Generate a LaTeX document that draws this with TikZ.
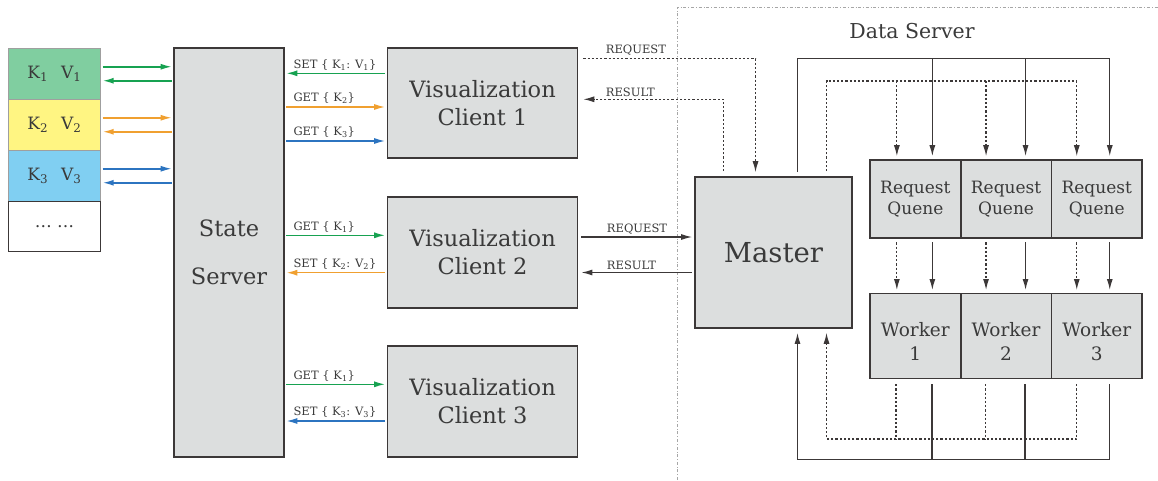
\documentclass[tikz,border=0pt]{standalone}
\usepackage{fontspec}
\setmainfont{DejaVu Serif}
\usetikzlibrary{arrows.meta}

\definecolor{boxgray}{HTML}{DCDEDE}
\definecolor{edge}{HTML}{3C3838}
\definecolor{ink}{HTML}{3A3A3A}
\definecolor{kvgreen}{HTML}{80CEA0}
\definecolor{kvyellow}{HTML}{FFF582}
\definecolor{kvblue}{HTML}{80CFF2}
\definecolor{getgreen}{HTML}{17A251}
\definecolor{getorange}{HTML}{F0A030}
\definecolor{getblue}{HTML}{2C74C0}

\newcommand{\kvpair}[1]{K\textsubscript{#1}\hspace{13pt}V\textsubscript{#1}}

\tikzset{
  box/.style={draw=edge, fill=boxgray, line width=1.6pt, text=ink, align=center, inner sep=0pt},
  client/.style={box, minimum width=190pt, minimum height=110pt, font=\fontsize{22.5}{28}\selectfont},
  cell/.style={box, minimum width=90.7pt},
  kv/.style={draw=gray!75, line width=1.4pt, minimum width=92pt, minimum height=51pt,
             inner sep=0pt, text=ink, font=\fontsize{17}{20}\selectfont},
  lbl/.style={text=ink, font=\fontsize{11.5}{13}\selectfont, inner sep=1pt, above right},
  arr/.style={-{Latex[length=11pt,width=6pt]}},
  larr/.style={{Latex[length=11pt,width=6pt]}-},
  carr/.style={line width=1.5pt, shorten <=1.5pt, shorten >=1.5pt},
  wire/.style={draw=edge, line width=1.3pt},
  dwire/.style={wire, line width=1.2pt, dash pattern=on 2.2pt off 2pt},
}

\begin{document}
\begin{tikzpicture}[x=1pt,y=-1pt]
\useasboundingbox (0,0) rectangle (1158,480);

% key / value table
\node[kv, fill=kvgreen]  (kv1) at (54.5,73.75)  {\kvpair{1}};
\node[kv, fill=kvyellow] (kv2) at (54.5,124.75) {\kvpair{2}};
\node[kv, fill=kvblue]   (kv3) at (54.5,175.75) {\kvpair{3}};
\node[kv, draw=edge, fill=white, minimum height=50.5pt] (kv4) at (54.5,226.5) {\dots\ \dots};

% servers and clients
\node[box, minimum width=110pt, minimum height=409pt, font=\fontsize{22.5}{27}\selectfont]
  (state) at (229,252.7) {State\\[21pt]Server};
\node[client] (c1) at (482.5,103)   {Visualization\\Client 1};
\node[client, minimum height=111pt] (c2) at (482.5,252.5) {Visualization\\Client 2};
\node[client, minimum height=111pt] (c3) at (482.5,401.5) {Visualization\\Client 3};
\node[box, minimum width=157pt, minimum height=151pt, font=\fontsize{27.5}{33}\selectfont]
  (master) at (773.5,252.5) {Master};

\foreach \i/\x in {1/915.35,2/1006.05,3/1096.75} {
  \node[cell, minimum height=78pt, font=\fontsize{17}{21}\selectfont] (q\i) at (\x,199) {Request\\Quene};
  \node[cell, minimum height=85pt, font=\fontsize{18.5}{24}\selectfont] (w\i) at (\x,335.8)
    {\rule{0pt}{25pt}Worker\\\i};
}

% data server frame
\draw[gray!70, line width=0.6pt, dash dot] (677,480) -- (677,7.5) -- (1158,7.5);
\node[text=ink, font=\fontsize{20.5}{22}\selectfont] (ds) at (912,31) {Data Server};

% table <-> state server
\foreach \i/\c in {1/getgreen,2/getorange,3/getblue} {
  \draw[carr, arr, \c] ([yshift=7pt]kv\i.east) -- ([yshift=7pt]kv\i.east -| state.west);
  \draw[carr, larr, \c] ([yshift=-7pt]kv\i.east) -- ([yshift=-7pt]kv\i.east -| state.west);
}

% state server <-> clients
\draw[carr, larr, getgreen] ([yshift=29.7pt]c1.west -| state.east) node[lbl, xshift=7pt, yshift=1.5pt]
  {SET \{ K\textsubscript{1}: V\textsubscript{1}\}} -- ([yshift=29.7pt]c1.west);
\draw[carr, arr, getorange] ([yshift=-4pt]c1.west -| state.east) node[lbl, xshift=7pt, yshift=1.5pt]
  {GET \{ K\textsubscript{2}\}} -- ([yshift=-4pt]c1.west);
\draw[carr, arr, getblue] ([yshift=-38pt]c1.west -| state.east) node[lbl, xshift=7pt, yshift=1.5pt]
  {GET \{ K\textsubscript{3}\}} -- ([yshift=-38pt]c1.west);

\draw[carr, arr, getgreen] ([yshift=17.2pt]c2.west -| state.east) node[lbl, xshift=7pt, yshift=1.5pt]
  {GET \{ K\textsubscript{1}\}} -- ([yshift=17.2pt]c2.west);
\draw[carr, larr, getorange] ([yshift=-20.2pt]c2.west -| state.east) node[lbl, xshift=7pt, yshift=1.5pt]
  {SET \{ K\textsubscript{2}: V\textsubscript{2}\}} -- ([yshift=-20.2pt]c2.west);

\draw[carr, arr, getgreen] ([yshift=17.2pt]c3.west -| state.east) node[lbl, xshift=7pt, yshift=1.5pt]
  {GET \{ K\textsubscript{1}\}} -- ([yshift=17.2pt]c3.west);
\draw[carr, larr, getblue] ([yshift=-19.5pt]c3.west -| state.east) node[lbl, xshift=7pt, yshift=1.5pt]
  {SET \{ K\textsubscript{3}: V\textsubscript{3}\}} -- ([yshift=-19.5pt]c3.west);

% clients <-> master
\draw[dwire, arr] ([xshift=5pt,yshift=-11.3pt]c1.north east) node[lbl, xshift=21pt, yshift=1.5pt] {REQUEST}
  -| ([xshift=-18pt,yshift=4pt]master.north);
\draw[dwire, arr] ([xshift=-50pt,yshift=5pt]master.north) |- ([xshift=5pt,yshift=3.7pt]c1.east)
  node[lbl, xshift=21pt, yshift=1.5pt] {RESULT};
\draw[wire, arr] ([xshift=3pt,yshift=15.5pt]c2.east) node[lbl, xshift=24pt, yshift=1.5pt] {REQUEST}
  -- ([xshift=-2pt,yshift=15.5pt]master.west);
\draw[wire, arr] ([xshift=-2pt,yshift=-20pt]master.west) -- ([xshift=3pt,yshift=-20pt]c2.east)
  node[lbl, xshift=24pt, yshift=1.5pt] {RESULT};

% master -> request queues
\draw[wire] ([xshift=24pt,yshift=4pt]master.north) |- ([xshift=13pt,yshift=101pt]q3.north);
\draw[dwire] ([xshift=53pt,yshift=5pt]master.north) |- ([xshift=-20pt,yshift=78.3pt]q3.north);
\foreach \i/\d/\s in {1/-18.5/17,2/-20/19.5,3/-20/13} {
  \draw[wire, arr] ([xshift=\s,yshift=101]q\i.north) -- ([xshift=\s,yshift=3]q\i.north);
  \draw[dwire, arr] ([xshift=\d,yshift=78.3]q\i.north) -- ([xshift=\d,yshift=3]q\i.north);
  % queue -> worker
  \draw[wire, arr] ([xshift=\s,yshift=-3.5]q\i.south) -- ([xshift=\s,yshift=2.5]w\i.north);
  \draw[dwire, arr] ([xshift=\d,yshift=-3.5]q\i.south) -- ([xshift=\d,yshift=2.5]w\i.north);
}

% workers -> master
\draw[dwire, arr] ([xshift=-20,yshift=-5]w3.south) |- ([xshift=53,yshift=-110.1]master.south)
  -- ([xshift=53,yshift=-4]master.south);
\draw[wire, arr] ([xshift=12.5,yshift=-5]w3.south) |- ([xshift=24,yshift=-130.4]master.south)
  -- ([xshift=24,yshift=-4]master.south);
\foreach \i/\d/\s in {1/-19.3/16.6,2/-20.7/19} {
  \draw[dwire] ([xshift=\d,yshift=-5]w\i.south) -- ++(0,55.1);
  \draw[wire] ([xshift=\s,yshift=-5]w\i.south) -- ++(0,75.4);
}

\end{tikzpicture}
\end{document}
